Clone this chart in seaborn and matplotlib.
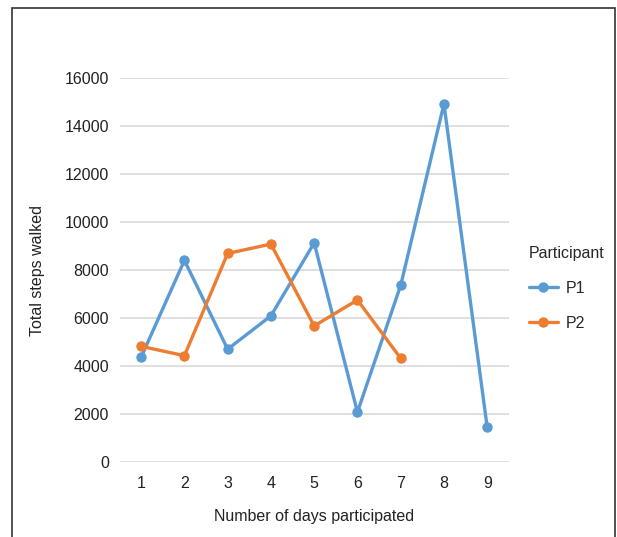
import pandas as pd
import seaborn as sns
import matplotlib.pyplot as plt
from matplotlib.patches import Rectangle

# Data
days_p1 = [1, 2, 3, 4, 5, 6, 7, 8, 9]
steps_p1 = [4370, 8400, 4700, 6090, 9130, 2080, 7360, 14920, 1440]
days_p2 = [1, 2, 3, 4, 5, 6, 7]
steps_p2 = [4820, 4430, 8690, 9080, 5670, 6750, 4320]
participants = ['P1', 'P2']
colors = ['#5B9BD5', '#ED7D31']
y_ticks = [0, 2000, 4000, 6000, 8000, 10000, 12000, 14000, 16000]

df = pd.concat([
    pd.DataFrame({'day': days_p1, 'steps': steps_p1, 'Participant': 'P1'}),
    pd.DataFrame({'day': days_p2, 'steps': steps_p2, 'Participant': 'P2'}),
])

sns.set_style('white')
plt.rcParams['font.family'] = ['Liberation Sans', 'DejaVu Sans']

fig = plt.figure(figsize=(6.17, 5.37), dpi=100)
ax = fig.add_axes([0.1937, 0.1397, 0.631, 0.715])

sns.lineplot(data=df, x='day', y='steps', hue='Participant',
             hue_order=participants, palette=dict(zip(participants, colors)),
             marker='o', markersize=7.5, markeredgewidth=0, linewidth=2.4,
             ax=ax)

ax.set_xlim(0.5, 9.5)
ax.set_ylim(0, 16000)
ax.set_yticks(y_ticks)
ax.set_xticks(days_p1)
ax.tick_params(axis='both', length=0, labelsize=11.5, colors='#222222')
ax.tick_params(axis='y', pad=7.5)
ax.tick_params(axis='x', pad=10)
ax.yaxis.grid(True, color='#D9D9D9', linewidth=1.2)
ax.set_axisbelow(True)
for s in ax.spines.values():
    s.set_visible(False)
ax.set_ylabel('Total steps walked', fontsize=11.5, color='#222222', labelpad=14)
ax.set_xlabel('Number of days participated', fontsize=11.5, color='#222222', labelpad=13)

sns.move_legend(ax, 'center left', bbox_to_anchor=(1.015, 0.453), frameon=False,
                title='Participant', fontsize=11.5, title_fontsize=11.5,
                handlelength=1.8, handletextpad=0.5, labelspacing=1.25)
ax.get_legend()._legend_box.align = 'left'

# Outer frame of the original figure
fig.patches.append(Rectangle((0.0194, -0.05), 0.977, 1.035, transform=fig.transFigure,
                             fill=False, edgecolor='#333333', linewidth=1.2))

fig.savefig('out.png', dpi=100)
